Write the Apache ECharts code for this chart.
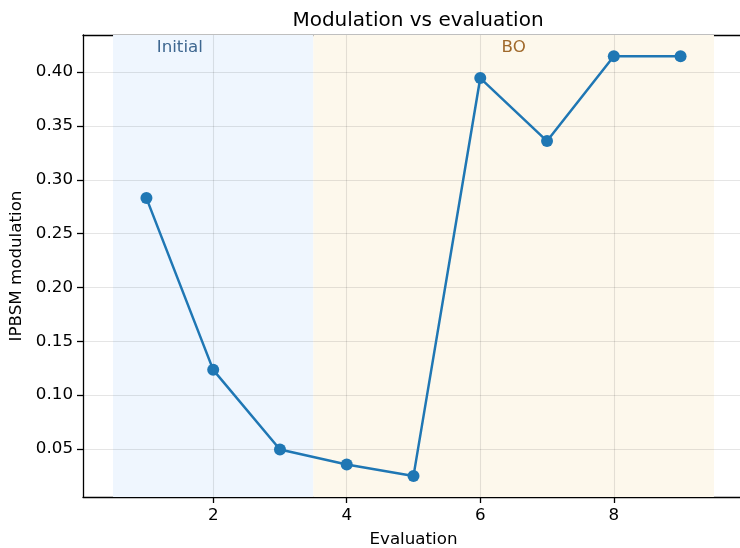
<!DOCTYPE html>
<html>
<head>
<meta charset="utf-8">
<script src="https://cdn.jsdelivr.net/npm/echarts@6/dist/echarts.min.js"></script>
<style>
html, body { margin: 0; padding: 0; background: #fff; overflow: hidden; }
#chart { width: 740px; height: 548px; }
</style>
</head>
<body>
<div id="chart"></div>
<script>
// data
var evaluations = [1, 2, 3, 4, 5, 6, 7, 8, 9];
var modulation = [0.283, 0.1235, 0.0495, 0.0355, 0.025, 0.3945, 0.336, 0.4148, 0.4148];
var xTicks = [2, 4, 6, 8];
var yTicks = [0.05, 0.10, 0.15, 0.20, 0.25, 0.30, 0.35, 0.40];
var phaseNames = ['Initial', 'BO'];
var phaseStart = [0.5, 3.5];
var phaseEnd = [3.5, 9.5];
var phaseLabelX = [1.5, 6.5];

var font = 'DejaVu Sans';
var gridColor = 'rgba(0,0,0,0.1)';

var chart = echarts.init(document.getElementById('chart'));

var gridLines = [];
xTicks.forEach(function (v) { gridLines.push({ xAxis: v }); });
yTicks.forEach(function (v) { gridLines.push({ yAxis: v }); });

chart.setOption({
  animation: false,
  title: {
    text: 'Modulation vs evaluation',
    left: 413, top: 6, textAlign: 'center',
    textStyle: { fontFamily: font, fontSize: 20, fontWeight: 'normal', color: '#000' }
  },
  // axes box runs past the right edge of the picture, as in the reference
  grid: { left: 83, right: -4, top: 35, bottom: 51, outerBoundsMode: 'none', containLabel: false },
  xAxis: [{
    type: 'value', min: 0.05, max: 9.95,
    name: 'Evaluation', nameLocation: 'middle', nameGap: 34,
    nameTextStyle: { fontFamily: font, fontSize: 16.7, color: '#000' },
    axisLine: { show: true, lineStyle: { color: '#000', width: 1.3 } },
    axisTick: { show: true, customValues: xTicks, length: 6, lineStyle: { color: '#000', width: 1.3 } },
    axisLabel: { customValues: xTicks, fontFamily: font, fontSize: 16.7, color: '#000', margin: 10 },
    splitLine: { show: false }
  }, {
    // top spine
    type: 'value', position: 'top', min: 0.05, max: 9.95,
    axisLine: { show: true, lineStyle: { color: '#000', width: 1.3 } },
    axisTick: { show: false }, axisLabel: { show: false }, splitLine: { show: false }
  }],
  yAxis: {
    type: 'value', min: 0.0054, max: 0.4345,
    name: 'IPBSM modulation', nameLocation: 'middle', nameGap: 57, nameRotate: 90,
    nameTextStyle: { fontFamily: font, fontSize: 16.7, color: '#000' },
    axisLine: { show: true, lineStyle: { color: '#000', width: 1.3 } },
    axisTick: { show: true, customValues: yTicks, length: 6, lineStyle: { color: '#000', width: 1.3 } },
    axisLabel: {
      customValues: yTicks, fontFamily: font, fontSize: 16.7, color: '#000', margin: 10,
      formatter: function (v) { return v.toFixed(2); }
    },
    splitLine: { show: false }
  },
  series: [
    {
      // phase backgrounds and grid
      type: 'line', data: [], silent: true,
      markArea: {
        silent: true,
        data: [
          [{ xAxis: phaseStart[0], itemStyle: { color: '#eff6fe' } }, { xAxis: phaseEnd[0] }],
          [{ xAxis: phaseStart[1], itemStyle: { color: '#fdf8ec' } }, { xAxis: phaseEnd[1] }]
        ]
      },
      markLine: {
        silent: true, symbol: 'none', label: { show: false },
        lineStyle: { color: gridColor, type: 'solid', width: 1.1 },
        data: gridLines
      },
      markPoint: {
        silent: true, symbol: 'circle', symbolSize: 0,
        data: [
          { coord: [phaseLabelX[0], 0.4225], label: { show: true, position: 'inside', formatter: phaseNames[0], color: '#3e6790', fontFamily: font, fontSize: 16.7 } },
          { coord: [phaseLabelX[1], 0.4225], label: { show: true, position: 'inside', formatter: phaseNames[1], color: '#a0692b', fontFamily: font, fontSize: 16.7 } }
        ]
      }
    },
    {
      type: 'line',
      data: evaluations.map(function (x, i) { return [x, modulation[i]]; }),
      symbol: 'circle', symbolSize: 12,
      lineStyle: { color: '#1f77b4', width: 2.5 },
      itemStyle: { color: '#1f77b4' },
      z: 5
    }
  ]
});
</script>
</body>
</html>
